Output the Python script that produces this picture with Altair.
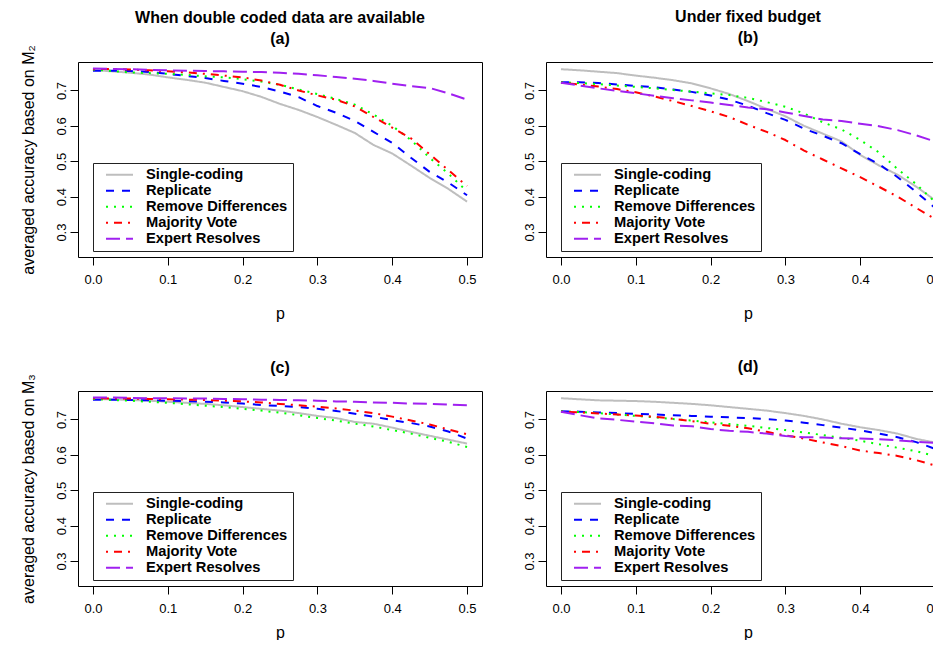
import altair as alt
import pandas as pd

P = [0.0, 0.025, 0.05, 0.075, 0.1, 0.125, 0.15, 0.175, 0.2, 0.225, 0.25,
     0.275, 0.3, 0.325, 0.35, 0.375, 0.4, 0.425, 0.45, 0.475, 0.5]

METHODS = ["Single-coding", "Replicate", "Remove Differences", "Majority Vote", "Expert Resolves"]
COLORS = ["#BEBEBE", "#0000FF", "#00FF00", "#FF0000", "#A020F0"]
DASHES = [[1, 0], [8, 8], [2, 6], [2, 6, 8, 6], [14, 6]]

# Panel (a): M2, double coded data available
A_single = [.758, .754, .750, .745, .737, .730, .722, .710, .698, .682, .662, .645, .625, .603, .580, .546, .522, .488, .453, .422, .386]
A_repl   = [.756, .756, .755, .752, .747, .741, .735, .727, .719, .710, .697, .681, .656, .637, .614, .583, .552, .510, .470, .440, .404]
A_remove = [.759, .755, .751, .749, .747, .744, .740, .737, .732, .725, .716, .703, .690, .676, .660, .632, .600, .560, .510, .465, .415]
A_major  = [.760, .761, .759, .757, .754, .751, .747, .742, .737, .728, .716, .700, .686, .674, .655, .625, .595, .565, .520, .475, .430]
A_expert = [.762, .761, .760, .758, .757, .756, .755, .754, .753, .752, .750, .747, .743, .738, .733, .727, .719, .712, .707, .692, .674]

# Panel (b): M2, fixed budget
B_single = [.760, .757, .753, .749, .742, .736, .729, .720, .706, .690, .670, .648, .627, .600, .578, .556, .518, .488, .462, .428, .390]
B_repl   = [.723, .723, .721, .717, .713, .709, .703, .696, .686, .674, .657, .636, .617, .592, .572, .551, .520, .492, .455, .413, .368]
B_remove = [.723, .721, .718, .714, .710, .706, .701, .697, .692, .687, .679, .667, .654, .635, .610, .590, .560, .525, .478, .435, .385]
B_major  = [.722, .717, .711, .704, .695, .683, .670, .656, .641, .625, .603, .583, .560, .530, .505, .480, .455, .428, .400, .368, .337]
B_expert = [.722, .714, .706, .699, .692, .685, .678, .672, .666, .659, .652, .647, .638, .628, .618, .614, .606, .599, .588, .573, .556]

# Panel (c): M3, double coded data available
C_single = [.758, .757, .755, .753, .750, .747, .744, .740, .735, .730, .725, .718, .710, .704, .693, .688, .677, .665, .654, .643, .632]
C_repl   = [.756, .756, .755, .754, .753, .752, .750, .748, .745, .741, .738, .735, .730, .724, .716, .708, .698, .690, .680, .666, .646]
C_remove = [.758, .755, .753, .750, .747, .743, .739, .735, .730, .725, .719, .712, .704, .697, .688, .680, .670, .660, .648, .637, .622]
C_major  = [.760, .759, .759, .758, .757, .756, .755, .753, .751, .748, .744, .740, .736, .731, .725, .718, .708, .697, .686, .672, .658]
C_expert = [.762, .762, .761, .760, .760, .759, .759, .758, .757, .756, .755, .754, .753, .751, .750, .748, .747, .745, .744, .742, .740]

# Panel (d): M3, fixed budget
D_single = [.760, .757, .754, .753, .752, .750, .747, .744, .740, .735, .730, .725, .718, .710, .700, .688, .678, .670, .660, .645, .635]
D_repl   = [.723, .722, .720, .718, .716, .714, .712, .710, .708, .706, .704, .701, .697, .691, .684, .677, .669, .660, .650, .636, .617]
D_remove = [.723, .721, .718, .714, .710, .706, .701, .697, .692, .687, .682, .676, .670, .663, .656, .648, .640, .630, .620, .610, .597]
D_major  = [.722, .720, .717, .714, .711, .708, .702, .695, .688, .682, .675, .665, .655, .646, .635, .625, .612, .605, .597, .585, .570]
D_expert = [.722, .712, .703, .699, .694, .689, .683, .681, .673, .668, .665, .660, .653, .650, .649, .647, .646, .644, .641, .637, .634]

X_TICKS = [0.0, 0.1, 0.2, 0.3, 0.4, 0.5]
Y_TICKS = [0.3, 0.4, 0.5, 0.6, 0.7]
FONT = "Liberation Sans"

PANEL_W = 404
PANEL_H = 195
X_DOMAIN = [-0.02, 0.52]
Y_DOMAIN = [0.2296, 0.7804]


def long_df(series):
    rows = []
    for m, vals in zip(METHODS, series):
        for p, v in zip(P, vals):
            rows.append({"p": p, "acc": v, "method": m})
    return pd.DataFrame(rows)


def legend():
    return alt.Legend(
        orient="none", legendX=15, legendY=101, title=None,
        symbolType="stroke", symbolSize=729, symbolStrokeWidth=2, clipHeight=13.3,
        labelFontSize=14.7, labelFontWeight="bold", labelFont=FONT, labelColor="black",
        labelOffset=12, padding=5, symbolOffset=7, rowPadding=0, labelLimit=400,
        strokeColor="#222222", fillColor="white",
    )


AXIS_COMMON = dict(domain=False, grid=False, tickColor="black", tickSize=8, tickWidth=1,
                   labelFont=FONT, labelFontSize=13, labelColor="black",
                   titleFont=FONT, titleFontSize=16, titleFontWeight="normal", titleColor="black")


def panel(series, title_lines, ytitle, title_offset, xtitle_pad):
    df = long_df(series)
    yaxis_kw = dict(values=Y_TICKS, format=".1f", labelAngle=-90, labelAlign="center",
                    labelBaseline="alphabetic", labelPadding=5, titlePadding=19, **AXIS_COMMON)
    yaxis_kw["title"] = ytitle if ytitle else None
    return alt.Chart(df).mark_line(strokeWidth=2, strokeJoin="round").encode(
        x=alt.X("p:Q", scale=alt.Scale(domain=X_DOMAIN, nice=False, zero=False),
                axis=alt.Axis(values=X_TICKS, format=".1f", title="p",
                              labelPadding=8, titlePadding=xtitle_pad, **AXIS_COMMON)),
        y=alt.Y("acc:Q", scale=alt.Scale(domain=Y_DOMAIN, nice=False, zero=False),
                axis=alt.Axis(**yaxis_kw)),
        color=alt.Color("method:N", scale=alt.Scale(domain=METHODS, range=COLORS), legend=legend()),
        strokeDash=alt.StrokeDash("method:N", scale=alt.Scale(domain=METHODS, range=DASHES), legend=legend()),
    ).properties(
        width=PANEL_W, height=PANEL_H,
        title=alt.TitleParams(text=title_lines, fontSize=16, fontWeight="bold", font=FONT,
                              color="black", lineHeight=21, anchor="middle", offset=title_offset),
    )


ylab2 = "averaged accuracy based on M\u2082"
ylab3 = "averaged accuracy based on M\u2083"

LEFT_OFF = -2     # the long y title reaches above the plot box
RIGHT_OFF = 16

pa = panel([A_single, A_repl, A_remove, A_major, A_expert],
           ["When double coded data are available", "(a)"], ylab2, LEFT_OFF, 19)
pb = panel([B_single, B_repl, B_remove, B_major, B_expert],
           ["Under fixed budget", "(b)"], None, RIGHT_OFF, 19)
pc = panel([C_single, C_repl, C_remove, C_major, C_expert], ["(c)"], ylab3, LEFT_OFF, 9)
pd_ = panel([D_single, D_repl, D_remove, D_major, D_expert], ["(d)"], None, RIGHT_OFF, 9)

# The original figure is cut by the right edge of the page: a negative right
# padding crops the drawing the same way.
chart = alt.concat(
    pa, pb, pc, pd_, columns=2, bounds="flush",
    spacing=alt.RowColnumber(row=134, column=64),
).resolve_scale(
    color="independent", strokeDash="independent"
).resolve_legend(
    color="independent", strokeDash="independent"
).properties(
    padding={"left": 11, "top": 0, "right": -18, "bottom": -1},
    background="white",
).configure_view(
    stroke="black", strokeWidth=1
)

chart.save("out.html", embed_options={"renderer": "svg", "actions": False})
